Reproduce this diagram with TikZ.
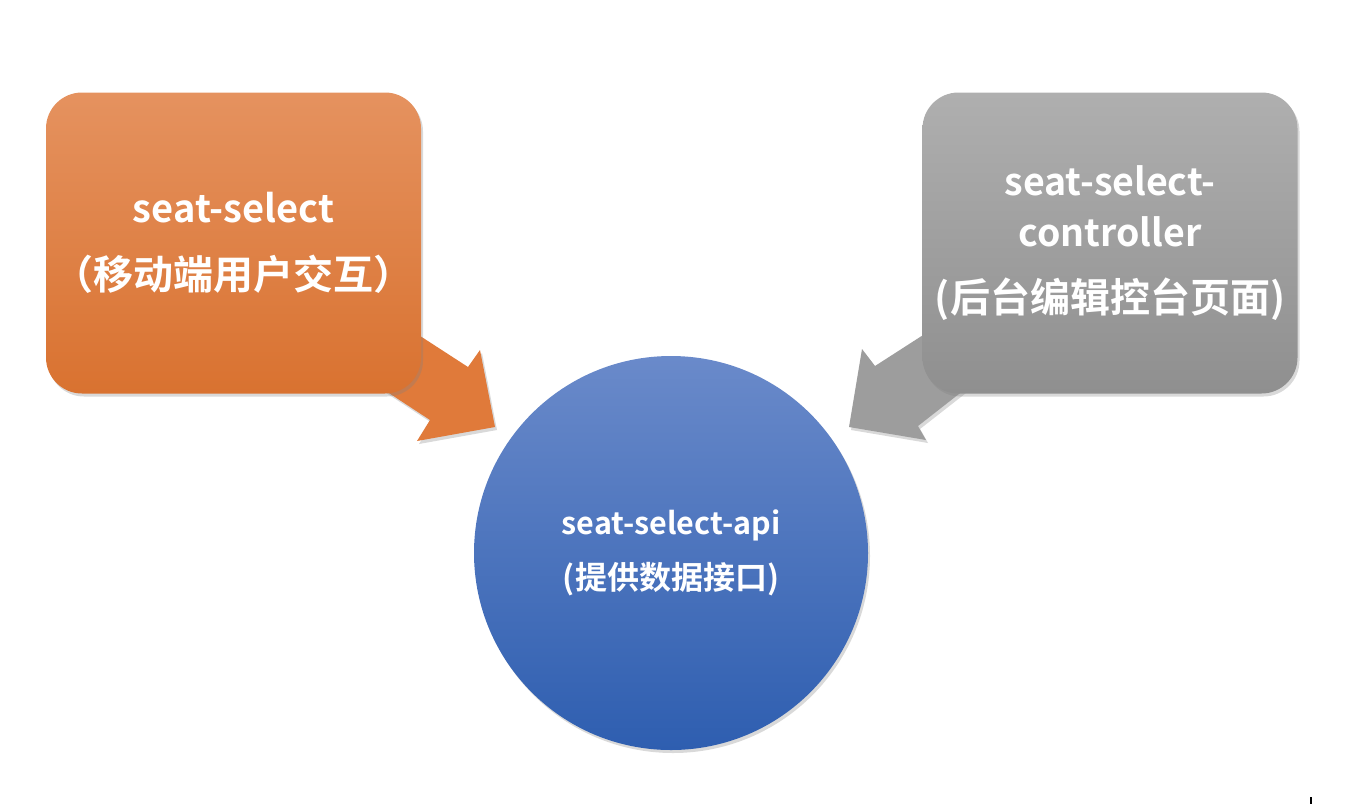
\documentclass[tikz,border=0pt]{standalone}
\usepackage{fontspec}
\setmainfont{Noto Sans CJK SC}[BoldFont={Noto Sans CJK SC Bold}]
\usetikzlibrary{shadows}
\definecolor{orTop}{HTML}{E5925F}
\definecolor{orBot}{HTML}{D97230}
\definecolor{orArrow}{HTML}{E07A3A}
\definecolor{grTop}{HTML}{AFAFAF}
\definecolor{grBot}{HTML}{8F8F8F}
\definecolor{grArrow}{HTML}{9D9D9D}
\definecolor{blTop}{HTML}{6A8ACA}
\definecolor{blBot}{HTML}{2E5EB0}
\begin{document}
\begin{tikzpicture}[x=1pt,y=-1pt,
  shade/.style={drop shadow={opacity=0.3, shadow xshift=2pt, shadow yshift=-3pt}},
  box/.style={rectangle, rounded corners=36pt, minimum width=375pt, minimum height=301pt,
    inner sep=0pt, align=center, text=white, shade},
  apinode/.style={circle, minimum size=394pt, inner sep=0pt, align=center, text=white,
    top color=blTop, bottom color=blBot, shade,
    font=\bfseries\fontsize{30.5}{55}\selectfont},
  blockarrow/.style={shade}
]
\useasboundingbox (0,0) rectangle (1348,804);
% block arrows (drawn first, boxes overlap them)
\fill[orArrow, blockarrow] (360,297) -- (468,367) -- (480,350) -- (495,427) -- (417,441) -- (430,420) -- (340,361) -- cycle;
\fill[grArrow, blockarrow] (990,292) -- (875,366) -- (862,349) -- (849,427) -- (926,440) -- (918,426) -- (1010,354) -- cycle;
% boxes
\node[box, top color=orTop, bottom color=orBot,
  font=\bfseries\fontsize{38}{67}\selectfont] (sel) at (233.5,243)
  {seat-select\\{\fontsize{40}{67}\selectfont （移动端用户交互）}};
\node[box, top color=grTop, bottom color=grBot,
  font=\bfseries\fontsize{37.5}{51}\selectfont] (ctl) at (1110,243)
  {seat-select-\\controller\\[15pt]{\fontsize{40}{51}\selectfont (后台编辑控台页面)}};
% circle
\node[apinode] (api) at (671,553) {seat-select-api\\{\fontsize{32}{55}\selectfont (提供数据接口)}};
% small tick
\coordinate (tickA) at (1311,797);
\coordinate (tickB) at (1311,804);
\draw[line width=2pt] (tickA) -- (tickB);
\end{tikzpicture}
\end{document}
